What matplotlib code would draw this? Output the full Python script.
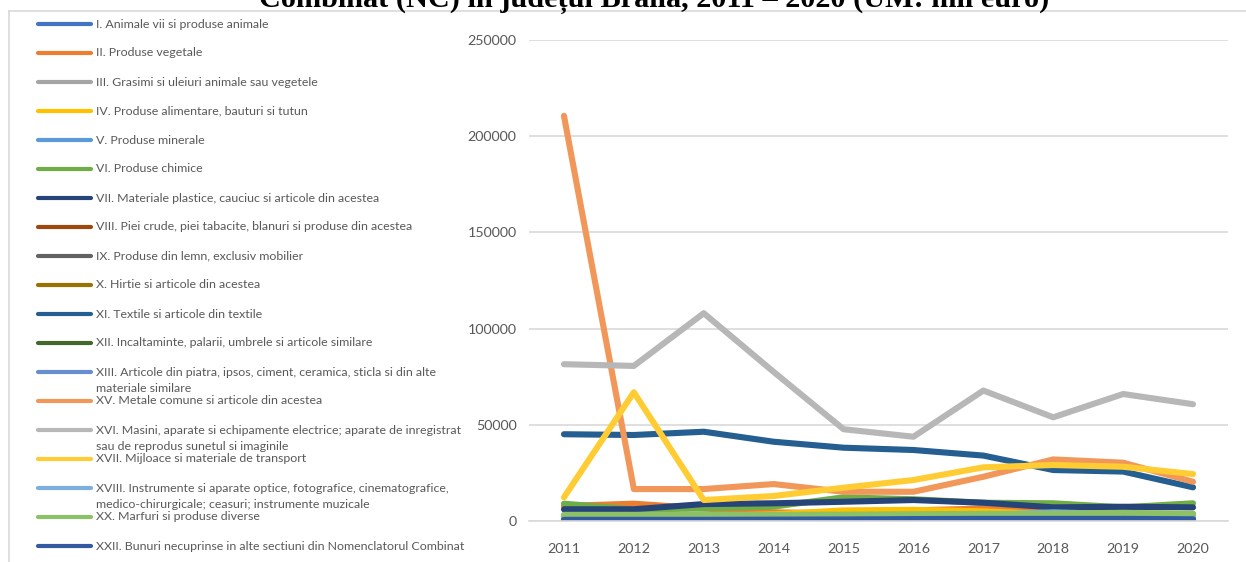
import matplotlib
matplotlib.use("Agg")
import matplotlib.pyplot as plt
from matplotlib.lines import Line2D

W, H = 1246, 562

years = ["2011", "2012", "2013", "2014", "2015", "2016", "2017", "2018", "2019", "2020"]

labels = [
    "I. Animale vii si produse animale",
    "II. Produse vegetale",
    "III. Grasimi si uleiuri animale sau vegetele",
    "IV. Produse alimentare, bauturi si tutun",
    "V. Produse minerale",
    "VI. Produse chimice",
    "VII. Materiale plastice, cauciuc si articole din acestea",
    "VIII. Piei crude, piei tabacite, blanuri si produse din acestea",
    "IX. Produse din lemn, exclusiv mobilier",
    "X. Hirtie si articole din acestea",
    "XI. Textile si articole din textile",
    "XII. Incaltaminte, palarii, umbrele si articole similare",
    "XIII. Articole din piatra, ipsos, ciment, ceramica, sticla si din alte\nmateriale similare",
    "XV. Metale comune si articole din acestea",
    "XVI. Masini, aparate si echipamente electrice; aparate de inregistrat\nsau de reprodus sunetul si imaginile",
    "XVII. Mijloace si materiale de transport",
    "XVIII. Instrumente si aparate optice, fotografice, cinematografice,\nmedico-chirurgicale; ceasuri; instrumente muzicale",
    "XX. Marfuri si produse diverse",
    "XXII. Bunuri necuprinse in alte sectiuni din Nomenclatorul Combinat",
]

s_I = [200, 200, 200, 200, 200, 200, 200, 200, 200, 200]
s_II = [7800, 9000, 6500, 4500, 4000, 5500, 6500, 5000, 4000, 3500]
s_III = [100, 100, 100, 100, 100, 100, 100, 100, 100, 100]
s_IV = [2000, 2000, 2500, 3500, 5500, 5800, 5000, 3500, 3000, 2500]
s_V = [1000, 1000, 1000, 1000, 1000, 1000, 1000, 1000, 1000, 1000]
s_VI = [9000, 6000, 6500, 7500, 12300, 11300, 9500, 9200, 7100, 9200]
s_VII = [6100, 6100, 8800, 9200, 10000, 10900, 9500, 7100, 7400, 7100]
s_VIII = [500, 500, 500, 500, 500, 500, 500, 500, 500, 500]
s_IX = [100, 100, 100, 100, 100, 100, 100, 100, 100, 100]
s_X = [300, 300, 300, 300, 300, 300, 300, 300, 300, 300]
s_XI = [45100, 44700, 46400, 41200, 38100, 36900, 34000, 26500, 25700, 17500]
s_XII = [200, 200, 200, 200, 200, 200, 200, 200, 200, 200]
s_XIII = [500, 500, 500, 500, 500, 500, 500, 500, 500, 500]
s_XV = [210600, 16600, 16600, 19200, 15200, 15200, 23000, 32000, 30300, 20400]
s_XVI = [81500, 80600, 108000, 77500, 47700, 43800, 67800, 53900, 66000, 60700]
s_XVII = [12300, 66900, 10900, 13000, 17300, 21300, 27900, 29100, 28200, 24400]
s_XVIII = [2500, 2500, 2500, 2500, 2500, 2700, 3000, 4500, 3500, 3000]
s_XX = [3200, 3200, 3200, 3200, 3300, 3500, 3700, 3800, 4200, 3800]
s_XXII = [600, 600, 600, 700, 800, 1000, 1100, 1100, 1100, 900]

series = [s_I, s_II, s_III, s_IV, s_V, s_VI, s_VII, s_VIII, s_IX, s_X, s_XI,
          s_XII, s_XIII, s_XV, s_XVI, s_XVII, s_XVIII, s_XX, s_XXII]

colors = ["#4472C4", "#ED7D31", "#A5A5A5", "#FFC000", "#5B9BD5", "#70AD47",
          "#264478", "#9E480E", "#636363", "#997300", "#255E91", "#43682B",
          "#698ED0", "#F1975A", "#B7B7B7", "#FFCD33", "#7CAFDD", "#8CC168",
          "#335AA1"]

yticks = [0, 50000, 100000, 150000, 200000, 250000]

title = "Combinat (NC) în județul Brăila, 2011 – 2020 (UM: mii euro)"

fig = plt.figure(figsize=(W / 100, H / 100), dpi=100)

def fx(px):
    return px / W

def fy(py):
    return 1 - py / H

ax = fig.add_axes([fx(529), fy(521), fx(1228) - fx(529), fy(40) - fy(521)])
x = list(range(len(years)))
for vals, c in zip(series, colors):
    ax.plot(x, vals, color=c, lw=4.4, solid_capstyle="round", solid_joinstyle="round")

ax.set_xlim(-0.5, len(years) - 0.5)
ax.set_ylim(0, 250000)
ax.set_yticks(yticks)
ax.set_yticklabels([str(v) for v in yticks])
ax.set_xticks(x)
ax.set_xticklabels(years)
ax.grid(axis="y", color="#D9D9D9", lw=1.2)
ax.set_axisbelow(True)
for sp in ["top", "right", "left"]:
    ax.spines[sp].set_visible(False)
ax.spines["bottom"].set_color("#D9D9D9")
ax.spines["bottom"].set_linewidth(1.2)
ax.tick_params(length=0, labelsize=10.3, labelcolor="#595959")
ax.tick_params(axis="x", pad=16)
ax.tick_params(axis="y", pad=9)
for t in ax.get_xticklabels() + ax.get_yticklabels():
    t.set_fontfamily("Lato")

# chart area border
fig.add_artist(Line2D([fx(9), 1.0], [fy(10.5), fy(10.5)], color="#D9D9D9", lw=1.2))
fig.add_artist(Line2D([fx(9), fx(9)], [fy(10.5), 0.0], color="#D9D9D9", lw=1.2))

# title (top part cut off as in reference)
fig.text(fx(654), fy(7), title, ha="center", va="baseline", fontsize=21.8,
         fontweight="bold", family="Liberation Serif", color="black")

# legend
for i, (lab, c) in enumerate(zip(labels, colors)):
    y = 24 + 29 * i
    fig.add_artist(Line2D([fx(38), fx(91)], [fy(y), fy(y)], color=c, lw=3,
                          solid_capstyle="round"))
    for j, line in enumerate(lab.split("\n")):
        fig.text(fx(96), fy(y + 16 * j), line, ha="left", va="center",
                 fontsize=8.9, family="Lato", color="#595959")

fig.savefig("out.png", dpi=100)
